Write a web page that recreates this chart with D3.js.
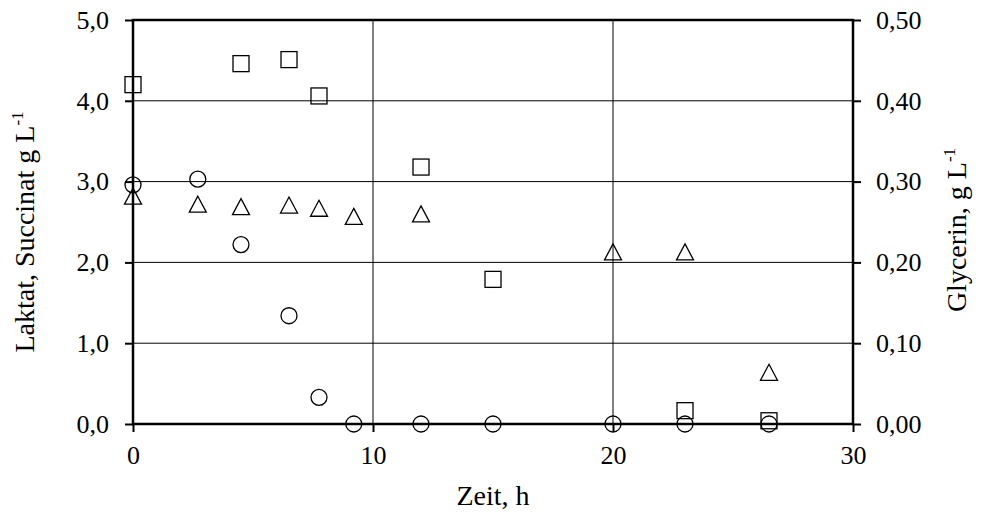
<!DOCTYPE html>
<html>
<head>
<meta charset="utf-8">
<script src="https://cdn.jsdelivr.net/npm/d3@7"></script>
<style>
  body { margin: 0; background: #fff; }
  text { font-family: "Liberation Serif", "Times New Roman", serif; fill: #000; }
</style>
</head>
<body>
<div id="chart-area"></div>
<script>
// time in h
var zeitQuadrat = [0, 4.5, 6.5, 7.75, 12, 15, 23, 26.5];
var wertQuadrat = [4.20, 4.46, 4.51, 4.06, 3.18, 1.79, 0.165, 0.04];

var zeitDreieck = [0, 2.7, 4.5, 6.5, 7.75, 9.2, 12, 20, 23, 26.5];
var wertDreieck = [2.82, 2.72, 2.69, 2.71, 2.67, 2.57, 2.60, 2.13, 2.13, 0.64];

// glycerin on right axis
var zeitKreis = [0, 2.7, 4.5, 6.5, 7.75, 9.2, 12, 15, 20, 23, 26.5];
var glycerin = [0.296, 0.303, 0.222, 0.134, 0.033, 0, 0, 0, 0, 0, 0];

var xTicks = [0, 10, 20, 30];
var yTicksLeft = [0, 1, 2, 3, 4, 5];
var yTicksRight = [0, 0.1, 0.2, 0.3, 0.4, 0.5];

var width = 982, height = 514;
var margin = {top: 20, right: 129, bottom: 90, left: 133};
var w = width - margin.left - margin.right;
var h = height - margin.top - margin.bottom;

var svg = d3.select("#chart-area")
    .append("svg")
    .attr("width", width)
    .attr("height", height);

var g = svg.append("g")
    .attr("transform", "translate(" + margin.left + "," + margin.top + ")");

var x = d3.scaleLinear().domain([0, 30]).range([0, w]);
var yL = d3.scaleLinear().domain([0, 5]).range([h, 0]);
var yR = d3.scaleLinear().domain([0, 0.5]).range([h, 0]);

var fmt1 = d3.format(".1f"), fmt2 = d3.format(".2f");
var komma = (f) => (d) => f(d).replace(".", ",");

// gridlines
g.selectAll(".hgrid").data(yTicksLeft.slice(1, -1)).enter()
    .append("line")
    .attr("x1", 0).attr("x2", w)
    .attr("y1", (d) => yL(d)).attr("y2", (d) => yL(d))
    .attr("stroke", "#000").attr("stroke-width", 1);
g.selectAll(".vgrid").data(xTicks.slice(1, -1)).enter()
    .append("line")
    .attr("x1", (d) => x(d)).attr("x2", (d) => x(d))
    .attr("y1", 0).attr("y2", h)
    .attr("stroke", "#000").attr("stroke-width", 1);

// frame
g.append("rect").attr("x", 0).attr("y", 0).attr("width", w).attr("height", h)
    .attr("fill", "none").attr("stroke", "#000").attr("stroke-width", 2.5);

function styleAxis(sel) {
    sel.select(".domain").remove();
    sel.selectAll(".tick line").attr("stroke", "#000").attr("stroke-width", 2);
    sel.selectAll(".tick text").style("font-size", "26px")
        .style("font-family", "Liberation Serif, serif");
}

g.append("g").attr("transform", "translate(0," + h + ")")
    .call(d3.axisBottom(x).tickValues(xTicks).tickSize(8).tickPadding(14))
    .call(styleAxis);

g.append("g")
    .call(d3.axisLeft(yL).tickValues(yTicksLeft).tickSize(8).tickPadding(16).tickFormat(komma(fmt1)))
    .call(styleAxis);

g.append("g").attr("transform", "translate(" + w + ",0)")
    .call(d3.axisRight(yR).tickValues(yTicksRight).tickSize(8).tickPadding(15).tickFormat(komma(fmt2)))
    .call(styleAxis);

// markers
var s = 16;
g.selectAll(".quadrat").data(zeitQuadrat).enter()
    .append("rect")
    .attr("x", (d) => x(d) - s / 2)
    .attr("y", (d, i) => yL(wertQuadrat[i]) - s / 2)
    .attr("width", s).attr("height", s)
    .attr("fill", "none").attr("stroke", "#000").attr("stroke-width", 1.3);

g.selectAll(".dreieck").data(zeitDreieck).enter()
    .append("path")
    .attr("d", () => {
        var hh = 16, ww = 17;
        return "M0," + (-hh / 2) + "L" + (ww / 2) + "," + (hh / 2) + "L" + (-ww / 2) + "," + (hh / 2) + "Z";
    })
    .attr("transform", (d, i) => "translate(" + x(d) + "," + yL(wertDreieck[i]) + ")")
    .attr("fill", "none").attr("stroke", "#000").attr("stroke-width", 1.3);

g.selectAll(".kreis").data(zeitKreis).enter()
    .append("circle")
    .attr("cx", (d) => x(d))
    .attr("cy", (d, i) => yR(glycerin[i]))
    .attr("r", 8)
    .attr("fill", "none").attr("stroke", "#000").attr("stroke-width", 1.3);

// axis titles
svg.append("text")
    .attr("x", margin.left + w / 2).attr("y", 505)
    .attr("text-anchor", "middle").style("font-size", "28px")
    .text("Zeit, h");

var tl = svg.append("text")
    .attr("transform", "translate(34,232) rotate(-90)")
    .attr("text-anchor", "middle").style("font-size", "28px");
tl.append("tspan").text("Laktat, Succinat g L");
tl.append("tspan").attr("dy", -11).style("font-size", "17px").text("-1");

var tr = svg.append("text")
    .attr("transform", "translate(966,230) rotate(-90)")
    .attr("text-anchor", "middle").style("font-size", "28px");
tr.append("tspan").text("Glycerin, g L");
tr.append("tspan").attr("dy", -11).style("font-size", "17px").text("-1");
</script>
</body>
</html>
